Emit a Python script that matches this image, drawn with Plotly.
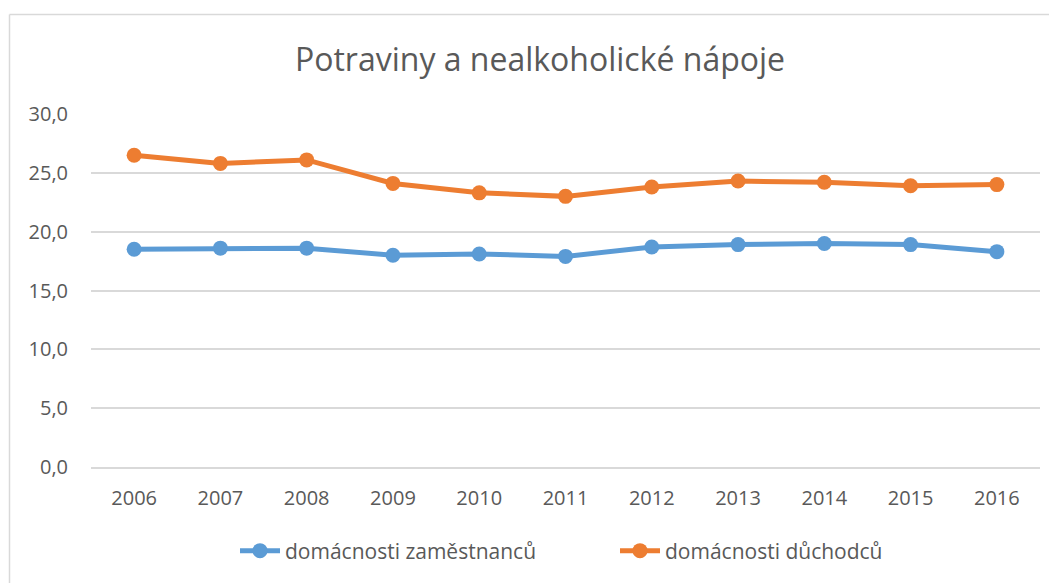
import plotly.graph_objects as go

years = ["2006", "2007", "2008", "2009", "2010", "2011", "2012", "2013", "2014", "2015", "2016"]
zamestnanci = [18.5, 18.6, 18.6, 18.0, 18.1, 17.9, 18.7, 18.9, 19.0, 18.9, 18.3]
duchodci = [26.5, 25.8, 26.1, 24.1, 23.3, 23.0, 23.8, 24.3, 24.2, 23.9, 24.0]
series_names = ["domácnosti zaměstnanců", "domácnosti důchodců"]
y_ticks = [0, 5, 10, 15, 20, 25, 30]

FONT = "Open Sans"
TXT = "#595959"

# figure is placed with an 8px page margin, so coordinates are shifted by 8
W, H = 1049, 575
L, T = 83, 106
PW, PH = 949, 353

fig = go.Figure()
for name, vals, col in [(series_names[0], zamestnanci, "#5B9BD5"),
                        (series_names[1], duchodci, "#ED7D31")]:
    fig.add_trace(go.Scatter(
        x=years, y=vals, name=name, mode="lines+markers",
        line=dict(color=col, width=5),
        marker=dict(color=col, size=15),
    ))

fig.update_layout(
    width=W, height=H,
    margin=dict(l=L, r=W - L - PW, t=T, b=H - T - PH, autoexpand=False),
    paper_bgcolor="white", plot_bgcolor="white",
    separators=", ",
    font=dict(family=FONT, color=TXT, size=20),
    title=dict(text="Potraviny a nealkoholické nápoje", x=532 / W, xanchor="center",
               y=1 - 52 / H, yanchor="middle", yref="container",
               font=dict(family=FONT, size=32, color=TXT)),
    showlegend=True,
    legend=dict(orientation="h", x=(227 - L) / PW, xanchor="left",
                y=(T + PH - 543) / PH, yanchor="middle",
                font=dict(family=FONT, size=21, color=TXT),
                itemwidth=40, entrywidth=325, entrywidthmode="pixels",
                tracegroupgap=0, bgcolor="rgba(0,0,0,0)"),
    xaxis=dict(type="category", range=[-0.5, 10.5], showgrid=False, showline=True,
               linecolor="#D9D9D9", linewidth=1.5, ticks="", ticklabelstandoff=12,
               tickfont=dict(family=FONT, size=20, color=TXT), zeroline=False),
    yaxis=dict(range=[0, 30], tickvals=y_ticks, tickformat=".1f", showgrid=True,
               gridcolor="#D9D9D9", gridwidth=1.5, zeroline=False, showline=False,
               ticks="", ticklabelstandoff=22,
               tickfont=dict(family=FONT, size=20, color=TXT)),
    shapes=[
        dict(type="line", xref="paper", yref="paper",
             x0=(1.5 - L) / PW, x1=(W + 5 - L) / PW,
             y0=(T + PH - 6.5) / PH, y1=(T + PH - 6.5) / PH,
             line=dict(color="#D9D9D9", width=1.5)),
        dict(type="line", xref="paper", yref="paper",
             x0=(1.5 - L) / PW, x1=(1.5 - L) / PW,
             y0=(T + PH - 6.5) / PH, y1=(T + PH - H - 5) / PH,
             line=dict(color="#D9D9D9", width=1.5)),
    ],
)

fig.write_html("out.html")
